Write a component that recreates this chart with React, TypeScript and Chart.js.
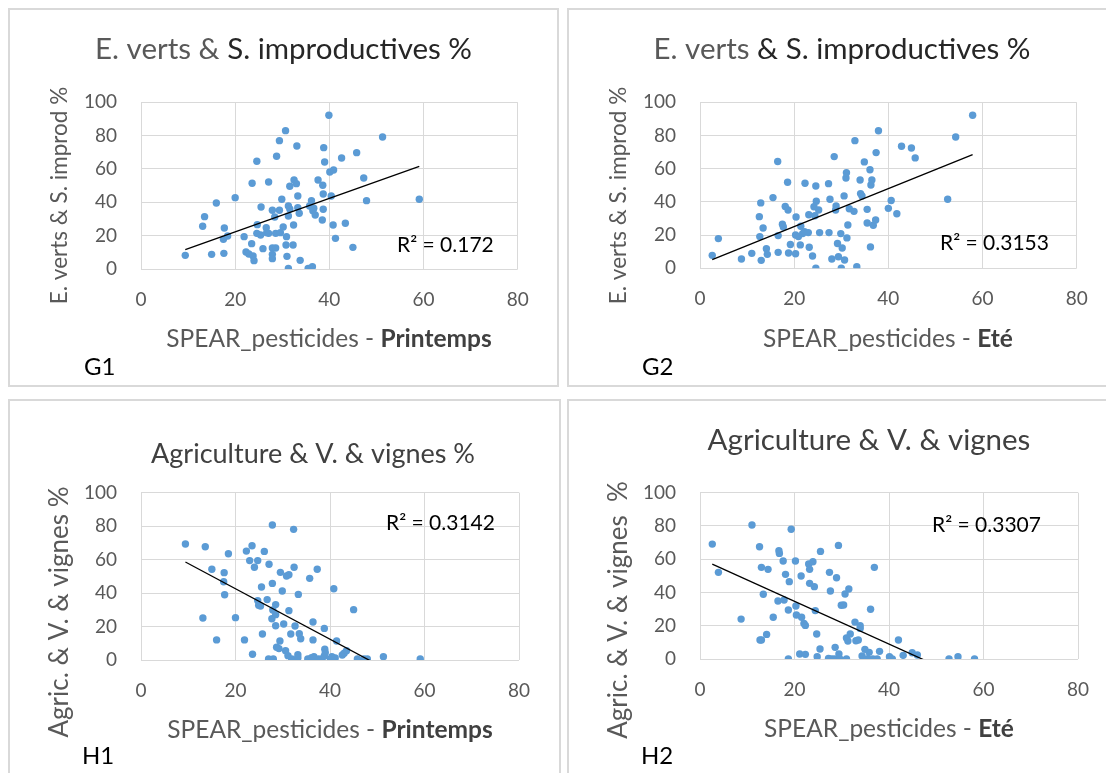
import React, { useEffect, useRef } from "react";
import { Chart, registerables } from "chart.js";

Chart.register(...registerables);

const FONT = "Lato, 'Open Sans', sans-serif";
const POINT_COLOR = "#5b9bd5";
const GRID_COLOR = "#d9d9d9";
const TICK_COLOR = "#595959";

// ---------- tick values ----------
const xTickRange = [0, 80];
const yTickRange = [0, 100];
const xStep = 20;
const yStep = 20;

// ---------- G1 : E. verts & S. improductives % vs SPEAR (Printemps) ----------
const g1X = [9.4, 13.5, 13.1, 16.0, 15.0, 17.6, 17.7, 17.5, 18.4, 20.0, 21.9, 22.3, 22.9, 23.5, 23.8, 24.0, 23.6, 24.6, 24.7, 24.6, 25.4, 25.5, 25.9, 26.6, 26.7, 27.1, 27.1, 27.9, 27.9, 27.9, 27.9, 28.6, 28.4, 28.6, 28.8, 29.4, 29.4, 29.6, 29.9, 30.2, 30.7, 30.9, 30.8, 31.0, 31.3, 31.3, 31.3, 31.6, 31.6, 32.3, 32.4, 32.5, 33.0, 33.1, 33.3, 33.3, 33.6, 33.8, 35.5, 35.8, 36.2, 36.4, 36.7, 37.0, 36.5, 37.6, 38.5, 38.6, 38.7, 38.7, 38.8, 39.0, 39.9, 40.1, 40.4, 40.9, 40.8, 41.3, 42.6, 43.4, 45.0, 45.8, 47.3, 47.9, 51.3, 59.1];
const g1Y = [8.2, 31.4, 25.6, 39.6, 8.8, 9.4, 24.6, 17.8, 19.8, 42.8, 19.4, 10.2, 9.0, 15.2, 7.8, 5.0, 51.4, 64.6, 26.6, 21.4, 20.4, 37.2, 12.2, 24.8, 21.8, 52.2, 21.4, 35.2, 12.6, 8.8, 6.2, 12.6, 31.2, 21.4, 67.6, 35.2, 77.0, 21.8, 41.8, 25.2, 83.0, 19.4, 14.4, 7.6, 37.8, 31.8, 0.4, 49.6, 36.0, 14.4, 26.4, 53.4, 51.2, 73.8, 43.8, 36.8, 33.4, 5.2, 0.4, 37.8, 41.0, 1.4, 36.4, 32.4, 35.0, 53.4, 29.4, 50.2, 35.8, 45.0, 72.8, 64.2, 92.2, 58.2, 43.8, 59.4, 26.4, 18.4, 66.6, 27.4, 13.0, 69.8, 54.6, 41.0, 79.2, 41.8];
const g1TrendX = [9.4, 59.1];
const g1TrendY = [11.6, 61.6];

// ---------- G2 : E. verts & S. improductives % vs SPEAR (Eté) ----------
const g2X = [2.6, 3.9, 8.8, 11.0, 12.6, 12.9, 12.7, 13.0, 13.4, 14.1, 14.3, 15.5, 16.5, 16.6, 16.6, 17.5, 17.7, 18.1, 18.6, 18.7, 18.8, 19.2, 20.3, 20.4, 20.3, 20.9, 21.3, 21.4, 21.8, 22.3, 22.2, 23.0, 23.1, 23.2, 23.9, 24.2, 24.4, 24.6, 24.6, 24.7, 25.2, 25.4, 27.3, 27.4, 27.6, 28.0, 28.5, 28.8, 28.9, 29.2, 29.4, 29.9, 30.0, 30.2, 30.6, 30.7, 31.0, 31.1, 31.2, 31.4, 31.7, 32.7, 32.9, 33.3, 34.0, 34.1, 34.4, 34.9, 35.5, 35.5, 36.1, 36.2, 36.3, 36.5, 36.8, 37.3, 37.4, 37.9, 40.0, 40.6, 41.8, 42.8, 44.9, 45.7, 52.6, 54.3, 57.9];
const g2Y = [7.8, 17.9, 5.6, 9.0, 31.1, 39.4, 19.1, 4.8, 24.3, 11.8, 8.4, 42.6, 64.3, 9.6, 19.7, 26.5, 24.9, 37.3, 51.8, 35.1, 9.2, 14.3, 8.8, 30.9, 20.1, 19.1, 14.1, 25.3, 20.9, 51.2, 22.1, 21.5, 32.3, 12.7, 7.4, 37.1, 31.7, 0.0, 49.6, 40.4, 35.1, 21.5, 51.0, 21.5, 41.6, 5.6, 67.3, 35.1, 37.6, 14.9, 7.0, 20.9, 0.0, 12.2, 43.6, 5.0, 54.4, 57.6, 18.3, 26.1, 35.9, 34.3, 76.9, 1.0, 53.2, 45.0, 43.6, 64.1, 35.5, 27.3, 59.4, 12.9, 50.2, 53.2, 25.9, 29.1, 69.7, 82.9, 36.1, 40.8, 32.9, 73.5, 72.5, 66.5, 41.6, 79.1, 92.2];
const g2TrendX = [2.6, 57.9];
const g2TrendY = [5.2, 68.5];

// ---------- H1 : Agriculture & V. & vignes % vs SPEAR (Printemps) ----------
const h1X = [9.4, 13.6, 13.1, 15.0, 16.0, 17.6, 17.5, 17.7, 18.5, 20.0, 21.9, 22.3, 23.0, 23.5, 23.6, 24.0, 24.7, 24.7, 24.9, 25.3, 25.5, 25.7, 26.1, 26.7, 27.0, 27.1, 27.8, 27.8, 27.9, 27.7, 28.0, 28.5, 28.5, 28.5, 28.7, 29.2, 29.4, 29.5, 29.9, 30.2, 30.6, 30.8, 31.3, 31.3, 31.1, 31.7, 31.9, 32.3, 32.4, 32.6, 33.2, 33.2, 33.3, 33.5, 33.8, 35.3, 35.7, 36.1, 36.4, 36.4, 36.6, 37.3, 37.6, 38.3, 38.8, 38.8, 38.9, 39.0, 40.1, 40.4, 40.8, 41.1, 41.4, 42.6, 43.0, 43.5, 45.0, 45.8, 47.2, 47.9, 51.3, 59.1];
const h1Y = [69.3, 67.7, 25.1, 54.2, 12.0, 52.2, 46.8, 39.0, 63.5, 25.3, 12.0, 65.1, 59.4, 68.3, 3.4, 55.4, 59.4, 35.5, 32.7, 32.3, 43.6, 15.5, 64.9, 36.1, 0.6, 57.2, 80.7, 45.8, 29.9, 24.7, 0.6, 33.1, 27.1, 20.5, 7.6, 6.8, 11.4, 52.4, 41.2, 21.5, 5.6, 50.2, 29.5, 51.0, 2.6, 15.5, 0.6, 78.1, 55.4, 20.3, 3.2, 1.4, 39.2, 15.7, 12.7, 0.6, 48.8, 1.4, 22.7, 12.0, 2.0, 54.2, 0.6, 0.6, 18.9, 2.4, 6.4, 4.4, 0.6, 2.0, 42.6, 1.2, 11.4, 3.0, 4.0, 5.6, 30.1, 0.6, 0.6, 0.6, 2.0, 0.6];
const h1TrendX = [9.4, 59.1];
const h1TrendY = [58.6, -16.4];

// ---------- H2 : Agriculture & V. & vignes % vs SPEAR (Eté) ----------
const h2X = [2.6, 3.9, 8.7, 11.0, 12.6, 13.0, 12.7, 13.0, 13.4, 14.1, 14.4, 15.5, 16.5, 16.7, 16.8, 17.6, 17.8, 18.1, 18.7, 18.9, 18.7, 19.3, 20.2, 20.3, 20.4, 21.1, 21.4, 21.5, 22.0, 22.3, 22.3, 23.0, 23.2, 23.2, 23.9, 24.2, 24.4, 24.7, 24.8, 25.4, 25.5, 27.2, 27.4, 27.6, 27.8, 28.4, 28.6, 28.9, 29.3, 29.4, 29.6, 29.9, 30.4, 30.7, 31.0, 31.0, 31.3, 31.5, 31.8, 32.8, 33.0, 33.5, 33.9, 33.9, 34.3, 34.9, 35.5, 35.8, 36.1, 36.9, 36.6, 37.5, 38.0, 40.1, 40.7, 42.0, 43.0, 44.9, 46.0, 52.7, 54.6, 58.1];
const h2Y = [69.1, 52.1, 24.0, 80.6, 67.5, 55.1, 11.4, 11.4, 38.9, 14.8, 53.9, 25.1, 34.9, 65.1, 63.5, 58.9, 35.5, 50.9, 29.5, 46.5, 0.0, 78.0, 58.9, 31.9, 26.5, 3.0, 49.9, 25.1, 21.4, 20.2, 2.8, 57.1, 53.9, 45.5, 58.5, 43.5, 29.1, 15.0, 1.4, 6.0, 64.7, 0.4, 52.1, 40.9, 0.0, 0.0, 7.0, 48.9, 68.3, 3.0, 0.0, 32.3, 32.5, 39.1, 0.0, 12.6, 10.8, 42.1, 15.0, 22.2, 11.0, 11.4, 20.0, 18.4, 1.8, 5.8, 0.2, 4.0, 29.9, 55.1, 0.0, 0.0, 4.6, 1.4, 0.0, 11.4, 2.2, 3.8, 2.4, 0.0, 1.4, 0.0];
const h2TrendX = [2.6, 58.1];
const h2TrendY = [57.1, -14.3];

// ---------- texts ----------
const r2Labels = ["R² = 0.172", "R² = 0.3153", "R² = 0.3142", "R² = 0.3307"];
const panelNames = ["G1", "G2", "H1", "H2"];

type Seg = { t: string; bold?: boolean; color: string };
type TextItem = {
  segs: Seg[];
  x: number;
  y: number;
  size: number;
  align: "center" | "left";
  baseline: CanvasTextBaseline;
  rotate?: boolean;
};

type PanelProps = {
  left: number;
  top: number;
  width: number;
  height: number;
  area: { l: number; r: number; t: number; b: number };
  xs: number[];
  ys: number[];
  tx: number[];
  ty: number[];
  texts: TextItem[];
};

function Panel(props: PanelProps) {
  const ref = useRef<HTMLCanvasElement | null>(null);
  useEffect(() => {
    const { left, top, width, height, area, xs, ys, tx, ty, texts } = props;
    const Y_W = 60;
    const X_H = 40;
    const textPlugin = {
      id: "panelTexts",
      afterDraw(chart: any) {
        const ctx: CanvasRenderingContext2D = chart.ctx;
        for (const it of texts) {
          ctx.save();
          const fontOf = (s: Seg) => `${s.bold ? "bold " : ""}${it.size}px ${FONT}`;
          let total = 0;
          const widths = it.segs.map((s) => {
            ctx.font = fontOf(s);
            const w = ctx.measureText(s.t).width;
            total += w;
            return w;
          });
          const px = it.x - left;
          const py = it.y - top;
          ctx.translate(px, py);
          if (it.rotate) ctx.rotate(-Math.PI / 2);
          let cx = it.align === "center" ? -total / 2 : 0;
          ctx.textBaseline = it.baseline;
          ctx.textAlign = "left";
          it.segs.forEach((s, i) => {
            ctx.font = fontOf(s);
            ctx.fillStyle = s.color;
            ctx.fillText(s.t, cx, 0);
            cx += widths[i];
          });
          ctx.restore();
        }
      },
    };
    const tickFont = { family: FONT, size: 19 };
    const chart = new Chart(ref.current as HTMLCanvasElement, {
      type: "scatter",
      data: {
        datasets: [
          {
            data: tx.map((x, i) => ({ x, y: ty[i] })),
            showLine: true,
            borderColor: "#000000",
            borderWidth: 1.3,
            pointRadius: 0,
            order: 0,
          },
          {
            data: xs.map((x, i) => ({ x, y: ys[i] })),
            backgroundColor: POINT_COLOR,
            borderColor: POINT_COLOR,
            borderWidth: 0,
            pointRadius: 3.7,
            order: 1,
          },
        ],
      },
      options: {
        animation: false,
        responsive: false,
        devicePixelRatio: 1,
        layout: {
          padding: {
            left: area.l - Y_W,
            right: width - area.r,
            top: area.t,
            bottom: height - area.b - X_H,
          },
        },
        plugins: {
          legend: { display: false },
          tooltip: { enabled: false },
          title: { display: false },
        },
        scales: {
          x: {
            type: "linear",
            min: xTickRange[0],
            max: xTickRange[1],
            ticks: { stepSize: xStep, padding: 19, font: tickFont, color: TICK_COLOR },
            grid: { color: GRID_COLOR, drawTicks: false, lineWidth: 1 },
            border: { display: false },
            afterFit: (s: any) => {
              s.height = X_H;
            },
          },
          y: {
            type: "linear",
            min: yTickRange[0],
            max: yTickRange[1],
            ticks: { stepSize: yStep, padding: 24, font: tickFont, color: TICK_COLOR },
            grid: { color: GRID_COLOR, drawTicks: false, lineWidth: 1 },
            border: { display: false },
            afterFit: (s: any) => {
              s.width = Y_W;
            },
          },
        },
      } as any,
      plugins: [textPlugin],
    });
    return () => chart.destroy();
  }, []);
  const { left, top, width, height } = props;
  return (
    <>
      <canvas
        ref={ref}
        width={width}
        height={height}
        style={{ position: "absolute", left, top, width, height }}
      />
      <div
        style={{
          position: "absolute",
          left,
          top,
          width,
          height,
          boxSizing: "border-box",
          border: "2px solid #d9d9d9",
          pointerEvents: "none",
        }}
      />
    </>
  );
}

const GREY = "#595959";
const DARK = "#262626";
const DARK2 = "#404040";

function xTitle(season: string, cx: number, by: number): TextItem {
  return {
    segs: [
      { t: "SPEAR_pesticides - ", color: GREY },
      { t: season, bold: true, color: DARK2 },
    ],
    x: cx,
    y: by,
    size: 24.5,
    align: "center",
    baseline: "alphabetic",
  };
}

function simple(t: string, x: number, y: number, size: number, color: string, align: "center" | "left", baseline: CanvasTextBaseline, rotate = false): TextItem {
  return { segs: [{ t, color }], x, y, size, align, baseline, rotate };
}

export default function App() {
  const g1Texts: TextItem[] = [
    {
      segs: [
        { t: "E. verts & ", color: GREY },
        { t: "S. improductives %", color: DARK },
      ],
      x: 283.5, y: 59, size: 29.5, align: "center", baseline: "alphabetic",
    },
    simple("E. verts & S. improd %", 60, 195.5, 22.5, GREY, "center", "middle", true),
    xTitle("Printemps", 329, 347),
    simple(panelNames[0], 84, 375, 24, "#000", "left", "alphabetic"),
    simple(r2Labels[0], 397, 245, 21, "#000", "left", "middle"),
  ];
  const g2Texts: TextItem[] = [
    {
      segs: [
        { t: "E. verts", color: GREY },
        { t: " & S. improductives %", color: DARK },
      ],
      x: 842, y: 59, size: 29.5, align: "center", baseline: "alphabetic",
    },
    simple("E. verts & S. improd %", 619, 195.5, 22.5, GREY, "center", "middle", true),
    xTitle("Eté", 888, 347),
    simple(panelNames[1], 642, 375, 24, "#000", "left", "alphabetic"),
    simple(r2Labels[1], 940, 243, 21, "#000", "left", "middle"),
  ];
  const h1Texts: TextItem[] = [
    simple("Agriculture & V. & vignes %", 313, 463, 27, DARK2, "center", "alphabetic"),
    simple("Agric. & V. & vignes %", 60, 612, 26, GREY, "center", "middle", true),
    xTitle("Printemps", 330, 737.7),
    simple(panelNames[2], 82, 764, 24, "#000", "left", "alphabetic"),
    simple(r2Labels[2], 386, 523, 21, "#000", "left", "middle"),
  ];
  const h2Texts: TextItem[] = [
    simple("Agriculture & V. & vignes", 869, 450, 29.5, DARK2, "center", "alphabetic"),
    simple("Agric. & V. & vignes  %", 619, 610, 26, GREY, "center", "middle", true),
    xTitle("Eté", 889, 737),
    simple(panelNames[3], 641, 764, 24, "#000", "left", "alphabetic"),
    simple(r2Labels[3], 932, 525, 21, "#000", "left", "middle"),
  ];
  return (
    <div
      style={{
        position: "absolute",
        left: 0,
        top: 0,
        width: 1106,
        height: 773,
        overflow: "hidden",
        background: "#ffffff",
      }}
    >
      <Panel left={8} top={8} width={551} height={379} area={{ l: 133, r: 509.7, t: 94.3, b: 261 }} xs={g1X} ys={g1Y} tx={g1TrendX} ty={g1TrendY} texts={g1Texts} />
      <Panel left={567} top={8} width={551} height={379} area={{ l: 133, r: 509.7, t: 94.3, b: 260.3 }} xs={g2X} ys={g2Y} tx={g2TrendX} ty={g2TrendY} texts={g2Texts} />
      <Panel left={8} top={399} width={553} height={379} area={{ l: 133, r: 511, t: 93.7, b: 261 }} xs={h1X} ys={h1Y} tx={h1TrendX} ty={h1TrendY} texts={h1Texts} />
      <Panel left={567} top={399} width={551} height={379} area={{ l: 133, r: 511, t: 93.7, b: 260 }} xs={h2X} ys={h2Y} tx={h2TrendX} ty={h2TrendY} texts={h2Texts} />
    </div>
  );
}
